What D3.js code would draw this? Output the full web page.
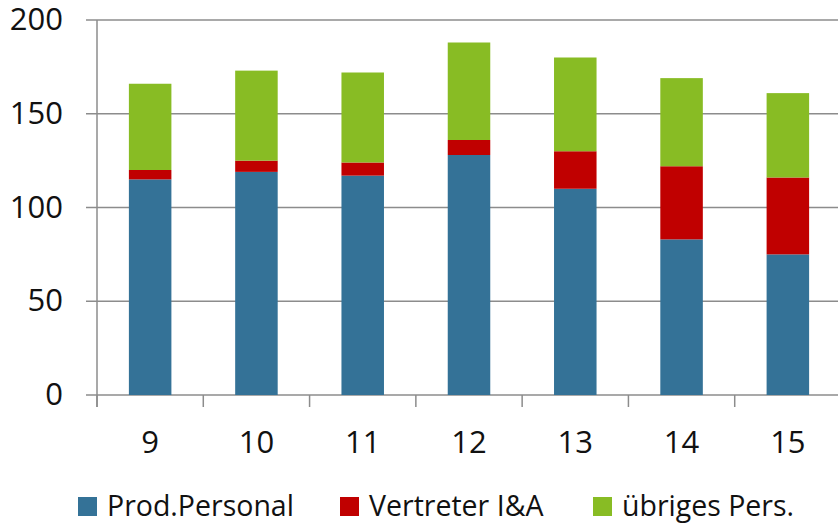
<!DOCTYPE html>
<html>
<head>
<meta charset="utf-8">
<script src="https://cdn.jsdelivr.net/npm/d3@7"></script>
<style>
  html, body { margin: 0; padding: 0; background: #fff; }
  svg { display: block; font-family: "Open Sans", "Noto Sans", sans-serif; }
</style>
</head>
<body>
<svg id="chart" width="838" height="526"></svg>
<script>
const categories = ["9", "10", "11", "12", "13", "14", "15"];
const seriesNames = ["Prod.Personal", "Vertreter I&A", "übriges Pers."];
const prodPersonal = [115, 119, 117, 128, 110, 83, 75];
const vertreter = [5, 6, 7, 8, 20, 39, 41];
const uebriges = [46, 48, 48, 52, 50, 47, 45];
const yTicks = [0, 50, 100, 150, 200];
const colors = ["#347297", "#C00000", "#88BC24"];

const svg = d3.select("#chart");
const x0 = 97, x1 = 841, yTop = 20, yBottom = 395;

const x = d3.scaleBand().domain(categories).range([x0, x1]).paddingInner(0.6).paddingOuter(0.3);
const y = d3.scaleLinear().domain([0, 200]).range([yBottom, yTop]);

const rows = categories.map((c, i) => ({cat: c, a: prodPersonal[i], b: vertreter[i], c: uebriges[i]}));
const stack = d3.stack().keys(["a", "b", "c"])(rows);

const gridColor = "#8c8c8c";

// gridlines
svg.append("g").selectAll("line").data(yTicks).join("line")
  .attr("x1", x0 - 11).attr("x2", 838)
  .attr("y1", d => y(d)).attr("y2", d => y(d))
  .attr("stroke", gridColor).attr("stroke-width", 1.5);

// y axis line
svg.append("line").attr("x1", x0).attr("x2", x0).attr("y1", yTop).attr("y2", yBottom + 12)
  .attr("stroke", gridColor).attr("stroke-width", 1.5);

// x ticks at band boundaries
const step = x.step();
const bounds = d3.range(categories.length + 1).map(i => x0 + i * step);
svg.append("g").selectAll("line").data(bounds).join("line")
  .attr("x1", d => d).attr("x2", d => d)
  .attr("y1", yBottom).attr("y2", yBottom + 12)
  .attr("stroke", gridColor).attr("stroke-width", 1.5);

// bars
svg.append("g").selectAll("g").data(stack).join("g")
  .attr("fill", (d, i) => colors[i])
  .selectAll("rect").data(d => d).join("rect")
  .attr("x", d => x(d.data.cat))
  .attr("width", x.bandwidth())
  .attr("y", d => y(d[1]))
  .attr("height", d => y(d[0]) - y(d[1]));

// y tick labels
svg.append("g").selectAll("text").data(yTicks).join("text")
  .attr("x", 63).attr("y", d => y(d))
  .attr("dy", "0.33em")
  .attr("text-anchor", "end")
  .attr("font-size", 31)
  .attr("fill", "#111")
  .text(d => d);

// x tick labels
svg.append("g").selectAll("text").data(categories).join("text")
  .attr("x", d => x(d) + x.bandwidth() / 2)
  .attr("y", 453)
  .attr("text-anchor", "middle")
  .attr("font-size", 31)
  .attr("fill", "#111")
  .text(d => d);

// legend
const legendX = [78, 340, 593];
const lg = svg.append("g").selectAll("g").data(seriesNames).join("g")
  .attr("transform", (d, i) => `translate(${legendX[i]},0)`);
lg.append("rect").attr("x", 0).attr("y", 497).attr("width", 19).attr("height", 19)
  .attr("fill", (d, i) => colors[i]);
lg.append("text").attr("x", 29).attr("y", 516)
  .attr("font-size", 28.5).attr("fill", "#111")
  .text(d => d);
</script>
</body>
</html>
